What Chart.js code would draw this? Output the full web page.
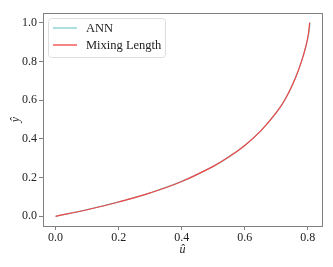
<!DOCTYPE html>
<html>
<head>
<meta charset="utf-8">
<script src="https://cdn.jsdelivr.net/npm/chart.js@4/dist/chart.umd.min.js"></script>
<style>
  html, body { margin: 0; padding: 0; background: #fff; }
  #wrap { width: 333px; height: 267px; }
</style>
</head>
<body>
<div id="wrap"><canvas id="myChart" width="333" height="267"></canvas></div>
<script>
// Values
var uAnn    = [0, 0.1, 0.2, 0.3, 0.4, 0.5, 0.55, 0.6, 0.65, 0.7, 0.73, 0.76, 0.78, 0.795, 0.803, 0.807];
var yAnn    = [0, 0.034, 0.074, 0.121, 0.180, 0.258, 0.307, 0.366, 0.440, 0.535, 0.610, 0.712, 0.800, 0.885, 0.945, 1.000];
var uMixing = [0, 0.1, 0.2, 0.3, 0.4, 0.5, 0.55, 0.6, 0.65, 0.7, 0.73, 0.76, 0.78, 0.795, 0.802, 0.806];
var yMixing = [0, 0.034, 0.074, 0.121, 0.180, 0.258, 0.307, 0.366, 0.440, 0.535, 0.610, 0.712, 0.800, 0.885, 0.945, 1.000];
var xTicks = [0, 0.2, 0.4, 0.6, 0.8];
var yTicks = [0, 0.2, 0.4, 0.6, 0.8, 1.0];

var FONT = "'Liberation Serif', 'DejaVu Serif', serif";
var AXIS = '#808080';

function toPoints(xs, ys) {
    return xs.map(function(x, i) { return { x: x, y: ys[i] }; });
}

// Box round the plot area, like matplotlib spines
var frame = {
    id: 'frame',
    afterDatasetsDraw: function(chart) {
        var a = chart.chartArea, c = chart.ctx;
        c.save();
        c.strokeStyle = AXIS;
        c.lineWidth = 1;
        c.strokeRect(Math.round(a.left) + 0.5, Math.round(a.top) + 0.5,
                     Math.round(a.right - a.left), Math.round(a.bottom - a.top));
        c.restore();
    }
};

// Legend in the upper left corner of the plot
var boxLegend = {
    id: 'boxLegend',
    afterDraw: function(chart) {
        var a = chart.chartArea, c = chart.ctx;
        var sets = chart.data.datasets;
        var x = a.left + 5, y = a.top + 5, w = 117, h = 39, r = 3;
        c.save();
        c.fillStyle = 'rgba(255,255,255,0.8)';
        c.strokeStyle = '#dddddd';
        c.lineWidth = 1;
        c.beginPath();
        c.roundRect(x + 0.5, y + 0.5, w, h, r);
        c.fill();
        c.stroke();
        c.font = "12.5px " + FONT;
        c.textBaseline = 'middle';
        sets.forEach(function(ds, i) {
            var ly = y + 10 + i * 17;
            c.strokeStyle = ds.borderColor;
            c.lineWidth = 1.3;
            c.beginPath();
            c.moveTo(x + 5, ly);
            c.lineTo(x + 29, ly);
            c.stroke();
            c.fillStyle = '#222';
            c.fillText(ds.label, x + 38, ly + 1);
        });
        c.restore();
    }
};

var ctx = document.getElementById('myChart').getContext('2d');
var myChart = new Chart(ctx, {
    type: 'line',
    data: {
        datasets: [{
            label: 'ANN',
            data: toPoints(uAnn, yAnn),
            borderColor: '#7fd0d0',
            borderWidth: 1.3,
            pointRadius: 0,
            tension: 0.4,
            order: 1
        }, {
            label: 'Mixing Length',
            data: toPoints(uMixing, yMixing),
            borderColor: '#f24545',
            borderWidth: 1.2,
            pointRadius: 0,
            tension: 0.4,
            order: 0
        }]
    },
    options: {
        responsive: false,
        animation: false,
        layout: { padding: { top: 13, right: 11, left: 0, bottom: 0 } },
        plugins: {
            legend: { display: false },
            tooltip: { enabled: false }
        },
        scales: {
            x: {
                type: 'linear',
                min: -0.04,
                max: 0.845,
                afterBuildTicks: function(s) { s.ticks = xTicks.map(function(v) { return { value: v }; }); },
                afterFit: function(s) { s.height = 41; },
                border: { display: false },
                grid: { drawOnChartArea: false, tickLength: 4, color: AXIS },
                ticks: {
                    padding: 1,
                    color: '#222',
                    font: { family: FONT, size: 12 },
                    callback: function(v) { return v.toFixed(1); }
                },
                title: {
                    display: true,
                    text: 'û',
                    color: '#222',
                    padding: { top: 0, bottom: 10 },
                    font: { family: FONT, size: 12, style: 'italic' }
                }
            },
            y: {
                type: 'linear',
                min: -0.05,
                max: 1.05,
                afterBuildTicks: function(s) { s.ticks = yTicks.map(function(v) { return { value: v }; }); },
                afterFit: function(s) { s.width = 43; },
                border: { display: false },
                grid: { drawOnChartArea: false, tickLength: 4, color: AXIS },
                ticks: {
                    padding: 2,
                    color: '#222',
                    font: { family: FONT, size: 12 },
                    callback: function(v) { return v.toFixed(1); }
                },
                title: {
                    display: true,
                    text: 'ŷ',
                    color: '#222',
                    padding: { top: 9, bottom: 0 },
                    font: { family: FONT, size: 12, style: 'italic' }
                }
            }
        }
    },
    plugins: [frame, boxLegend]
});
</script>
</body>
</html>
